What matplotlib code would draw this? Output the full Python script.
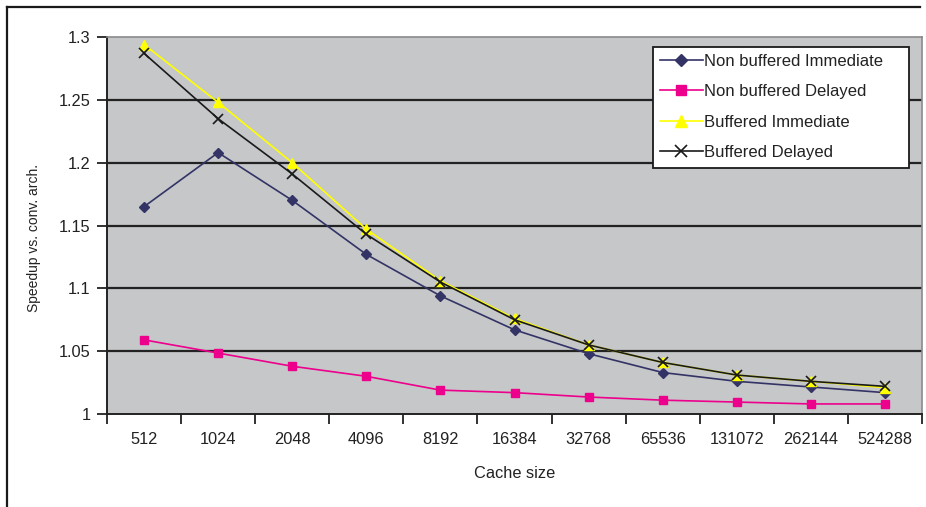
import matplotlib
matplotlib.use("Agg")
import matplotlib.pyplot as plt
from matplotlib.lines import Line2D
from matplotlib.patches import Rectangle

plt.rcParams['font.family'] = ['Liberation Sans', 'DejaVu Sans']

categories = ["512", "1024", "2048", "4096", "8192", "16384", "32768",
              "65536", "131072", "262144", "524288"]
nb_immediate = [1.165, 1.208, 1.170, 1.127, 1.094, 1.067, 1.048, 1.033, 1.026, 1.0215, 1.017]
nb_delayed = [1.059, 1.0485, 1.038, 1.030, 1.019, 1.017, 1.0135, 1.011, 1.0095, 1.008, 1.008]
b_immediate = [1.294, 1.248, 1.200, 1.147, 1.106, 1.076, 1.055, 1.041, 1.031, 1.026, 1.021]
b_delayed = [1.287, 1.235, 1.191, 1.143, 1.105, 1.075, 1.055, 1.041, 1.031, 1.026, 1.022]
y_ticks = [1.0, 1.05, 1.1, 1.15, 1.2, 1.25, 1.3]
y_tick_labels = ["1", "1.05", "1.1", "1.15", "1.2", "1.25", "1.3"]

FS = 11.8
W, H = 926, 507

fig = plt.figure(figsize=(9.26, 5.07), dpi=100)
fig.patch.set_facecolor("white")
ax = fig.add_axes([107/W, 1-414/H, (922-107)/W, (414-37)/H])
ax.set_facecolor("#C6C7C9")

x = list(range(len(categories)))
ax.plot(x, nb_immediate, color="#333366", lw=1.2, marker="D", ms=5.5,
        label="Non buffered Immediate", zorder=3)
ax.plot(x, nb_delayed, color="#EC008C", lw=1.2, marker="s", ms=6,
        label="Non buffered Delayed", zorder=3)
ax.plot(x, b_immediate, color="#FFFF00", lw=1.2, marker="^", ms=7,
        label="Buffered Immediate", zorder=3)
ax.plot(x, b_delayed, color="#1a1a1a", lw=1.2, marker="x", ms=7, mew=1.2,
        label="Buffered Delayed", zorder=4)

ax.set_xlim(-0.5, len(categories) - 0.5)
ax.set_ylim(1.0, 1.3)
ax.set_yticks(y_ticks)
ax.set_yticklabels(y_tick_labels)
ax.set_xticks(x)
ax.set_xticklabels(categories)
ax.set_xticks([i - 0.5 for i in range(len(categories) + 1)], minor=True)
ax.tick_params(axis="x", which="major", length=0, pad=13, labelsize=FS, colors="#222222")
ax.tick_params(axis="x", which="minor", length=7, width=1.3, color="#222222", direction="out")
ax.tick_params(axis="y", length=7, width=1.3, color="#222222", labelsize=FS,
               labelcolor="#222222", pad=5)

for yv in y_ticks[1:-1]:
    ax.axhline(yv, color="#222222", lw=1.6, zorder=1)

for s in ["left", "bottom"]:
    ax.spines[s].set_color("#222222")
    ax.spines[s].set_linewidth(1.4)
for s in ["top", "right"]:
    ax.spines[s].set_color("#8a8a8a")
    ax.spines[s].set_linewidth(1.2)

ax.set_xlabel("Cache size", fontsize=FS, color="#222222", labelpad=14)
ax.set_ylabel("Speedup vs. conv. arch.", fontsize=10, color="#222222")
ax.yaxis.set_label_coords((41-107)/815, (414-238)/377)

# legend frame (Excel style, with extra right padding)
frame = Rectangle((653/W, 1-168/H), (909-653)/W, (168-47)/H, transform=fig.transFigure,
                  facecolor="white", edgecolor="#1a1a1a", lw=1.3, zorder=5)
fig.add_artist(frame)

leg = fig.legend(*ax.get_legend_handles_labels(), loc="upper left",
                 bbox_to_anchor=(660/W, 1-54/H), frameon=False,
                 fontsize=12, handlelength=2.55, handletextpad=0.12,
                 labelspacing=0.92, borderpad=0, borderaxespad=0, markerscale=1.15)
leg.set_zorder(6)
for t in leg.get_texts():
    t.set_color("#222222")

# outer chart border (partially visible)
fig.add_artist(Line2D([7/W, 920/W], [1-7/H, 1-7/H], color="#1a1a1a", lw=1.6))
fig.add_artist(Line2D([7/W, 7/W], [1-7/H, 0], color="#1a1a1a", lw=1.6))

fig.savefig("out.png", dpi=100)
